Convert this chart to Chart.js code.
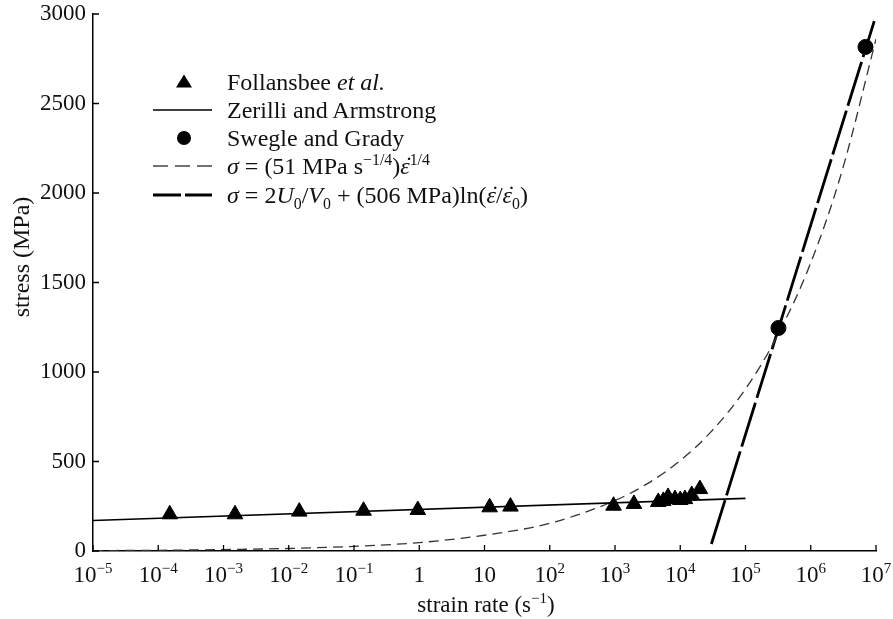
<!DOCTYPE html>
<html lang="en">
<head>
<meta charset="UTF-8" />
<title>stress vs strain rate</title>
<script src="https://cdn.jsdelivr.net/npm/chart.js"></script>
<style>
  html, body { margin: 0; padding: 0; background: #fff; }
  #wrap { position: relative; width: 893px; height: 619px; }
  #legend { position: absolute; left: 150px; top: 0; font-family: 'Liberation Serif', serif; font-size: 24px; color: #111; }
  .row { position: absolute; left: 0; height: 28px; white-space: nowrap; display: flex; align-items: center; }
  .row svg { width: 66px; height: 28px; flex: none; margin-right: 11px; }
  sup, sub { font-size: 0.66em; line-height: 0; }
  .dot { position: relative; display: inline-block; font-style: italic; }
  .dot::after { content: '\02D9'; position: absolute; left: 0.2em; top: -0.02em; font-style: normal; }
</style>
</head>
<body>
<div id="wrap">
  <canvas id="chart"></canvas>
  <div id="legend">
    <div class="row" style="top:68px">
      <svg viewBox="0 0 66 28"><polygon points="34,6.5 42,19.5 26,19.5" fill="#000" /></svg>
      <span>Follansbee <i>et al.</i></span>
    </div>
    <div class="row" style="top:96px">
      <svg viewBox="0 0 66 28"><line x1="3" y1="14" x2="62" y2="14" stroke="#000" stroke-width="1.6" /></svg>
      <span>Zerilli and Armstrong</span>
    </div>
    <div class="row" style="top:124px">
      <svg viewBox="0 0 66 28"><circle cx="34" cy="14" r="7" fill="#000" /></svg>
      <span>Swegle and Grady</span>
    </div>
    <div class="row" style="top:152px">
      <svg viewBox="0 0 66 28"><line x1="3" y1="14" x2="62" y2="14" stroke="#444" stroke-width="1.3" stroke-dasharray="15 7" /></svg>
      <span><i>σ</i> = (51 MPa s<sup>−1/4</sup>)<span class="dot">ε</span><sup>1/4</sup></span>
    </div>
    <div class="row" style="top:181px">
      <svg viewBox="0 0 66 28"><line x1="3" y1="14" x2="62" y2="14" stroke="#000" stroke-width="2.8" stroke-dasharray="28 4" /></svg>
      <span><i>σ</i> = 2<i>U</i><sub>0</sub>/<i>V</i><sub>0</sub> + (506 MPa)ln(<span class="dot">ε</span>/<span class="dot">ε</span><sub>0</sub>)</span>
    </div>
  </div>
</div>

<script>
  // values (strain rate in 1/s, stress in MPa)
  const follansbeeRate = [1.5e-4, 1.5e-3, 1.45e-2, 0.14, 0.95, 12, 25, 950, 1950, 4600, 5500, 6500, 8300, 10000, 11800, 15000, 20000];
  const follansbeeStress = [205, 205, 220, 225, 229, 244, 248, 253, 263, 274, 280, 302, 290, 285, 290, 313, 346];

  const zerilliRate = [1e-5, 1e5];
  const zerilliStress = [170, 294];

  const swegleRate = [3.2e5, 6.9e6];
  const swegleStress = [1246, 2816];

  const powerRate = [1e-5, 1e-4, 1e-3, 1e-2, 1e-1, 1, 10, 100, 1e3, 3e3, 1e4, 3e4, 1e5, 3e5, 1e6, 3e6, 1e7];
  const powerStress = [2, 4, 8, 14, 26, 47, 88, 155, 282, 372, 505, 668, 905, 1195, 1610, 2120, 2860];

  const logRate = [3e4, 9.4e6];
  const logStress = [39, 2960];

  const xTicks = [1e-5, 1e-4, 1e-3, 1e-2, 1e-1, 1, 10, 1e2, 1e3, 1e4, 1e5, 1e6, 1e7];
  const xTickLabels = ['10^{−5}', '10^{−4}', '10^{−3}', '10^{−2}', '10^{−1}', '1', '10', '10^{2}', '10^{3}', '10^{4}', '10^{5}', '10^{6}', '10^{7}'];
  const yTicks = [0, 500, 1000, 1500, 2000, 2500, 3000];

  const FONT = "'Liberation Serif', 'Times New Roman', serif";

  function pts(xs, ys) {
    return xs.map((x, i) => ({ x: x, y: ys[i] }));
  }

  // draws text with ^{...} superscripts, centred on cx
  function drawSup(ctx, text, cx, base) {
    const parts = text.split(/\^\{([^}]*)\}/);
    const big = '23px ' + FONT, small = '15px ' + FONT;
    let w = 0;
    parts.forEach((p, i) => { ctx.font = i % 2 ? small : big; w += ctx.measureText(p).width; });
    let x = cx - w / 2;
    ctx.textAlign = 'left';
    ctx.textBaseline = 'alphabetic';
    parts.forEach((p, i) => {
      ctx.font = i % 2 ? small : big;
      ctx.fillText(p, x, i % 2 ? base - 9 : base);
      x += ctx.measureText(p).width;
    });
  }

  const extras = {
    id: 'extras',
    afterDraw(chart) {
      const { ctx, chartArea: a, scales: { x, y } } = chart;
      ctx.save();
      ctx.strokeStyle = '#000';
      ctx.lineWidth = 1.3;
      ctx.beginPath();
      xTicks.forEach(v => {
        const px = x.getPixelForValue(v);
        ctx.moveTo(px, a.bottom);
        ctx.lineTo(px, a.bottom - 6);
      });
      yTicks.forEach(v => {
        const py = y.getPixelForValue(v);
        ctx.moveTo(a.left, py);
        ctx.lineTo(a.left + 6, py);
      });
      ctx.stroke();

      ctx.fillStyle = '#111';
      xTicks.forEach((v, i) => drawSup(ctx, xTickLabels[i], x.getPixelForValue(v), a.bottom + 31));
      drawSup(ctx, 'strain rate (s^{−1})', 486, a.bottom + 61);

      ctx.translate(23, 257);
      ctx.rotate(-Math.PI / 2);
      ctx.font = '24px ' + FONT;
      ctx.textAlign = 'center';
      ctx.textBaseline = 'middle';
      ctx.fillText('stress (MPa)', 0, 0);
      ctx.restore();
    }
  };

  new Chart(document.getElementById('chart'), {
    type: 'scatter',
    data: {
      datasets: [
        {
          label: 'Follansbee et al.',
          data: pts(follansbeeRate, follansbeeStress),
          pointStyle: 'triangle',
          pointRadius: 9,
          backgroundColor: '#000',
          borderColor: '#000',
          borderWidth: 1
        },
        {
          label: 'Swegle and Grady',
          data: pts(swegleRate, swegleStress),
          pointStyle: 'circle',
          pointRadius: 7.5,
          backgroundColor: '#000',
          borderColor: '#000'
        },
        {
          label: 'Zerilli and Armstrong',
          data: pts(zerilliRate, zerilliStress),
          showLine: true,
          pointRadius: 0,
          borderColor: '#000',
          borderWidth: 1.6
        },
        {
          label: 'power law',
          data: pts(powerRate, powerStress),
          showLine: true,
          pointRadius: 0,
          borderColor: '#333',
          borderWidth: 1.3,
          borderDash: [10, 6],
          cubicInterpolationMode: 'monotone'
        },
        {
          label: 'log law',
          data: pts(logRate, logStress),
          showLine: true,
          pointRadius: 0,
          borderColor: '#000',
          borderWidth: 2.8,
          borderDash: [46, 5],
          clip: false
        }
      ]
    },
    options: {
      responsive: true,
      maintainAspectRatio: false,
      animation: false,
      layout: { padding: { top: 14, right: 17, left: 0, bottom: 0 } },
      plugins: { legend: { display: false }, tooltip: { enabled: false } },
      scales: {
        x: {
          type: 'logarithmic',
          min: 1e-5,
          max: 1e7,
          grid: { display: false },
          border: { color: '#000', width: 1.5 },
          ticks: { display: false },
          afterFit(s) { s.height = 68; s.paddingLeft = 0; s.paddingRight = 0; }
        },
        y: {
          min: 0,
          max: 3000,
          grid: { display: false, drawTicks: false },
          border: { color: '#000', width: 1.5 },
          ticks: {
            stepSize: 500,
            color: '#111',
            padding: 7,
            font: { family: FONT, size: 23 },
            callback: v => String(v)
          },
          afterFit(s) { s.width = 93; s.paddingTop = 0; s.paddingBottom = 0; }
        }
      }
    },
    plugins: [extras]
  });
</script>
</body>
</html>
